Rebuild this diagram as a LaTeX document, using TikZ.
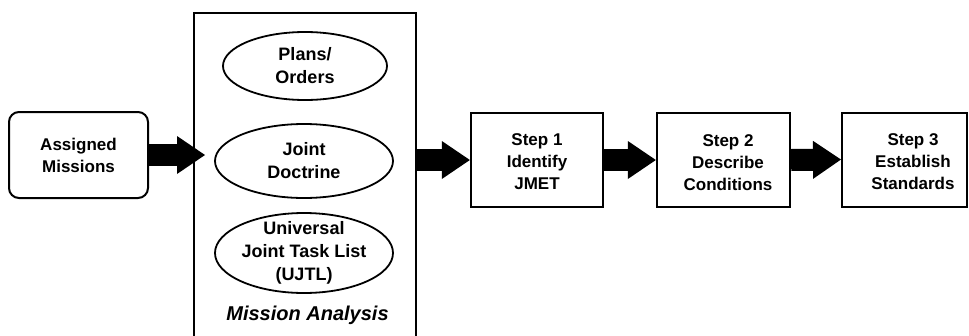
\documentclass[tikz,border=0pt]{standalone}
\usepackage{fontspec}
\setmainfont{Liberation Sans}
\usetikzlibrary{arrows.meta,shapes.geometric}
\tikzset{
  lbl/.style={font=\fontsize{17}{22}\selectfont\bfseries, align=center, inner sep=0pt},
  ovallbl/.style={font=\fontsize{18}{23}\selectfont\bfseries, align=center, inner sep=0pt},
  stepbox/.style={draw, line width=2.3pt, minimum height=94pt, inner sep=0pt},
  oval/.style={draw, ellipse, line width=1.8pt, inner sep=0pt},
  blockarrow/.style={line width=22pt, -{Triangle[length=28pt,width=38pt,line width=0pt]}}
}
\begin{document}
\begin{tikzpicture}[x=1pt,y=-1pt]
\useasboundingbox (0,0) rectangle (969,335);
\clip (0,0) rectangle (969,335);

% input box
\node[draw, line width=2pt, rounded corners=10pt, minimum width=139pt, minimum height=86pt, lbl]
  (am) at (78.5,155) {Assigned\\Missions};

% mission analysis panel (runs past the bottom edge)
\node[draw, line width=2pt, minimum width=222pt, minimum height=360pt, anchor=north west, inner sep=0pt]
  (ma) at (193,12) {};
\node[oval, minimum width=164pt, minimum height=68pt, label={[ovallbl]center:Plans/\\Orders}]
  (po) at (305,66) {};
\node[oval, minimum width=178pt, minimum height=74pt, label={[ovallbl]center:Joint\\Doctrine}]
  (jd) at (304,161) {};
\node[oval, minimum width=178pt, minimum height=80pt, label={[ovallbl]center:Universal\\Joint Task List\\(UJTL)}]
  (uj) at (304,253) {};
\node[font=\fontsize{20}{24}\selectfont\bfseries\itshape, inner sep=0pt]
  (mat) at (307.5,315) {Mission Analysis};

% steps: boxes, with their texts set a little below centre
\node[stepbox, minimum width=132pt] (s1) at (537,160) {};
\node[lbl] (s1t) at (537,162) {Step 1\\Identify\\JMET};
\node[stepbox, minimum width=133pt] (s2) at (723.5,160) {};
\node[lbl] (s2t) at (728,163) {Step 2\\Describe\\Conditions};
\node[stepbox, line width=2pt, minimum width=125pt] (s3) at (904.5,159.5) {};
\node[lbl] (s3t) at (913,162) {Step 3\\Establish\\Standards};

% block arrows
\draw[blockarrow, shorten >=-12pt] (am.east) -- (am.east -| ma.west);
\draw[blockarrow] (s1.west -| ma.east) -- (s1.west);
\draw[blockarrow] (s1.east) -- (s2.west);
\draw[blockarrow] (s2.east) -- (s3.west);
\end{tikzpicture}
\end{document}
